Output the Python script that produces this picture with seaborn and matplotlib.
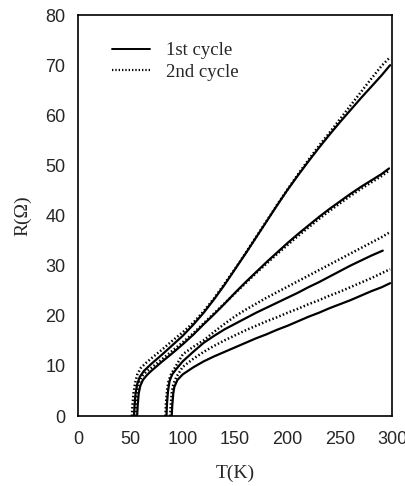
import numpy as np
import pandas as pd
import matplotlib
matplotlib.use("Agg")
import matplotlib.pyplot as plt
from matplotlib.lines import Line2D
import seaborn as sns

# ---- data ----
# pair A (low Tc, top)
A1_T = [53.5, 54, 55, 56.5, 59, 63, 70, 80, 90, 100, 110, 120, 130, 140, 150, 160, 170, 180, 190, 200, 210, 220, 230, 240, 250, 260, 270, 280, 290, 298]
A1_R = [0, 2, 4.5, 6.3, 7.8, 9, 10.4, 12.2, 14.1, 16, 18.2, 20.6, 23.3, 26.2, 29.3, 32.4, 35.6, 38.8, 42, 45.1, 48, 50.8, 53.5, 56.1, 58.6, 61, 63.4, 65.7, 68, 70]
A2_T = [51.5, 52, 53, 54.5, 56.5, 60, 65, 70, 80, 90, 100, 110, 120, 130, 140, 150, 160, 170, 180, 190, 200, 210, 220, 230, 240, 250, 260, 270, 280, 290, 298]
A2_R = [0, 2, 4.5, 6.5, 8.2, 9.6, 10.6, 11.5, 13.2, 15, 16.7, 18.6, 20.9, 23.5, 26.4, 29.4, 32.5, 35.7, 38.9, 42.1, 45.2, 48.2, 51.1, 53.9, 56.5, 59.2, 61.9, 64.6, 67.3, 69.9, 71.6]
# pair B (low Tc, ends ~49.5)
B1_T = [56.5, 57, 58, 59.5, 62, 66, 70, 80, 90, 100, 110, 120, 130, 140, 150, 160, 170, 180, 190, 200, 210, 220, 230, 240, 250, 260, 270, 280, 290, 297]
B1_R = [0, 2, 4.5, 6, 7.2, 8.2, 9, 10.8, 12.5, 14.3, 16.2, 18.3, 20.3, 22.4, 24.6, 26.7, 28.7, 30.7, 32.6, 34.5, 36.3, 38, 39.7, 41.3, 42.8, 44.3, 45.7, 47, 48.3, 49.4]
B2_T = [55, 55.5, 56.5, 58, 60.5, 65, 70, 80, 90, 100, 110, 120, 130, 140, 150, 160, 170, 180, 190, 200, 210, 220, 230, 240, 250, 260, 270, 280, 290, 296]
B2_R = [0, 2, 4.5, 6.5, 7.8, 8.8, 9.6, 11.3, 13, 14.7, 16.5, 18.5, 20.5, 22.5, 24.5, 26.5, 28.5, 30.4, 32.3, 34.1, 35.9, 37.6, 39.3, 40.9, 42.4, 43.9, 45.3, 46.6, 47.9, 48.8]
# pair C (high Tc, upper)
C1_T = [84.5, 85, 86, 87.5, 90, 94, 100, 110, 120, 130, 140, 150, 160, 170, 180, 190, 200, 210, 220, 230, 240, 250, 260, 270, 280, 291]
C1_R = [0, 2.5, 5, 7, 8.3, 9.4, 10.9, 12.8, 14.6, 16, 17.3, 18.4, 19.5, 20.6, 21.6, 22.6, 23.6, 24.6, 25.7, 26.7, 27.8, 28.9, 30, 31, 32, 33]
C2_T = [83.5, 84, 85, 86.5, 89, 93, 100, 110, 120, 130, 140, 150, 160, 170, 180, 190, 200, 210, 220, 230, 240, 250, 260, 270, 280, 290, 298]
C2_R = [0, 2.5, 5, 7, 8.4, 9.8, 12.3, 13.8, 15.1, 16.8, 18.4, 19.9, 21.2, 22.4, 23.6, 24.7, 25.8, 26.9, 28, 29.1, 30.2, 31.3, 32.4, 33.5, 34.6, 35.7, 36.7]
# pair D (high Tc, lower)
D1_T = [89.5, 90, 91, 92, 95, 100, 110, 120, 130, 140, 150, 160, 170, 180, 190, 200, 210, 220, 230, 240, 250, 260, 270, 280, 290, 298]
D1_R = [0, 2, 4.5, 5.8, 7.2, 8.3, 9.7, 10.9, 11.9, 12.8, 13.7, 14.6, 15.5, 16.3, 17.2, 18, 18.9, 19.8, 20.6, 21.5, 22.3, 23.1, 24, 24.9, 25.7, 26.5]
D2_T = [88, 88.5, 89.5, 91, 94, 100, 110, 120, 130, 140, 150, 160, 170, 180, 190, 200, 210, 220, 230, 240, 250, 260, 270, 280, 290, 298]
D2_R = [0, 2, 4.5, 6.3, 7.8, 9.8, 11.4, 12.8, 14, 15.1, 16.1, 17.1, 18, 18.9, 19.7, 20.6, 21.4, 22.3, 23.1, 24, 24.8, 25.7, 26.6, 27.5, 28.5, 29.3]

cycles = ["1st cycle", "2nd cycle"]
x_ticks = [0, 50, 100, 150, 200, 250, 300]
y_ticks = [0, 10, 20, 30, 40, 50, 60, 70, 80]

curves = [
    ("A1", A1_T, A1_R, cycles[0]), ("A2", A2_T, A2_R, cycles[1]),
    ("B1", B1_T, B1_R, cycles[0]), ("B2", B2_T, B2_R, cycles[1]),
    ("C1", C1_T, C1_R, cycles[0]), ("C2", C2_T, C2_R, cycles[1]),
    ("D1", D1_T, D1_R, cycles[0]), ("D2", D2_T, D2_R, cycles[1]),
]
rows = []
for name, T, R, cyc in curves:
    for t, r in zip(T, R):
        rows.append({"T": t, "R": r, "curve": name, "cycle": cyc})
df = pd.DataFrame(rows)

sns.set_style("white")
plt.rcParams["font.family"] = ["Liberation Serif", "DejaVu Serif"]

fig = plt.figure(figsize=(4.06, 4.86), dpi=100)
ax = fig.add_axes([0.192, 0.144, 0.774, 0.825])

for cyc in cycles:
    sub = df[df["cycle"] == cyc]
    sns.lineplot(data=sub, x="T", y="R", units="curve", estimator=None,
                 sort=False, color="black", lw=1.6 if cyc == cycles[0] else 1.8,
                 linestyle="-" if cyc == cycles[0] else (0, (0.6, 0.9)),
                 legend=False, ax=ax)

ax.set_xlim(0, 300)
ax.set_ylim(0, 80)
ax.set_xticks(x_ticks)
ax.set_yticks(y_ticks)
ax.set_xticklabels([str(v) for v in x_ticks], family="Liberation Sans", fontsize=13)
ax.set_yticklabels([str(v) for v in y_ticks], family="Liberation Sans", fontsize=13)
ax.tick_params(axis="x", direction="in", length=13.5, width=1.0, pad=11, color="black")
ax.tick_params(axis="y", direction="in", length=8, width=1.0, pad=9, color="black")
for s in ax.spines.values():
    s.set_color("black")
    s.set_linewidth(1.2)
ax.set_xlabel("T(K)", fontsize=14, labelpad=12)
ax.set_ylabel("R(Ω)", fontsize=14, labelpad=10)

handles = [Line2D([0], [0], color="black", lw=1.4, linestyle="-"),
           Line2D([0], [0], color="black", lw=1.6, linestyle=(0, (0.6, 0.9)))]
ax.legend(handles, cycles, loc="upper left", bbox_to_anchor=(0.055, 0.975),
          frameon=False, fontsize=13.5, handlelength=2.0, handletextpad=0.85,
          labelspacing=0.25)

fig.savefig("out.png", dpi=100)
